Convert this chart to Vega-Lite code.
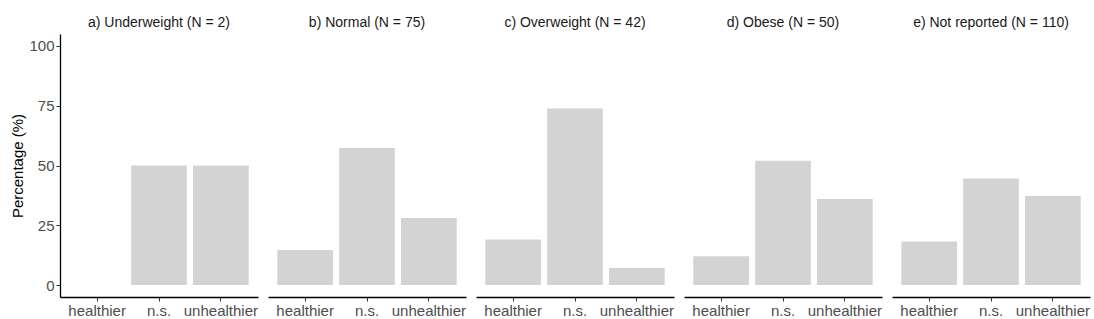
{
  "$schema": "https://vega.github.io/schema/vega-lite/v6.json",
  "padding": {"left": 10, "top": 16, "right": 2, "bottom": 0},
  "data": {"values": [
    {"panel": "a) Underweight (N = 2)", "change": "healthier", "pct": 0},
    {"panel": "a) Underweight (N = 2)", "change": "n.s.", "pct": 50},
    {"panel": "a) Underweight (N = 2)", "change": "unhealthier", "pct": 50},
    {"panel": "b) Normal (N = 75)", "change": "healthier", "pct": 14.67},
    {"panel": "b) Normal (N = 75)", "change": "n.s.", "pct": 57.33},
    {"panel": "b) Normal (N = 75)", "change": "unhealthier", "pct": 28.0},
    {"panel": "c) Overweight (N = 42)", "change": "healthier", "pct": 19.05},
    {"panel": "c) Overweight (N = 42)", "change": "n.s.", "pct": 73.81},
    {"panel": "c) Overweight (N = 42)", "change": "unhealthier", "pct": 7.14},
    {"panel": "d) Obese (N = 50)", "change": "healthier", "pct": 12},
    {"panel": "d) Obese (N = 50)", "change": "n.s.", "pct": 52},
    {"panel": "d) Obese (N = 50)", "change": "unhealthier", "pct": 36},
    {"panel": "e) Not reported (N = 110)", "change": "healthier", "pct": 18.18},
    {"panel": "e) Not reported (N = 110)", "change": "n.s.", "pct": 44.55},
    {"panel": "e) Not reported (N = 110)", "change": "unhealthier", "pct": 37.27}
  ]},
  "facet": {
    "column": {
      "field": "panel", "type": "nominal",
      "sort": ["a) Underweight (N = 2)", "b) Normal (N = 75)", "c) Overweight (N = 42)", "d) Obese (N = 50)", "e) Not reported (N = 110)"],
      "header": {"title": null, "labelFontSize": 14, "labelColor": "#1a1a1a", "labelPadding": 4, "labelFont": "Liberation Sans"}
    }
  },
  "spacing": 10,
  "spec": {
    "width": 198,
    "height": 263,
    "mark": {"type": "bar", "color": "#D3D3D3"},
    "encoding": {
      "x": {
        "field": "change", "type": "nominal",
        "sort": ["healthier", "n.s.", "unhealthier"],
        "scale": {"paddingInner": 0.1, "paddingOuter": 0.15},
        "axis": {"title": null, "labelAngle": 0, "labelFontSize": 15, "labelColor": "#4d4d4d", "tickSize": 4, "labelPadding": 2, "domainWidth": 1.3, "domainColor": "#000000", "tickColor": "#333333"}
      },
      "y": {
        "field": "pct", "type": "quantitative",
        "scale": {"domain": [-5, 105], "nice": false, "zero": false},
        "axis": {"values": [0, 25, 50, 75, 100], "title": "Percentage (%)", "titleFontSize": 15, "titleFontWeight": "normal", "titleColor": "#000000", "titlePadding": 3, "labelFontSize": 15, "labelColor": "#4d4d4d", "tickSize": 4, "labelPadding": 2, "domainWidth": 1.3, "domainColor": "#000000", "tickColor": "#333333"}
      },
      "y2": {"datum": 0}
    }
  },
  "config": {
    "font": "Liberation Sans",
    "view": {"stroke": null},
    "axis": {"grid": false}
  }
}
